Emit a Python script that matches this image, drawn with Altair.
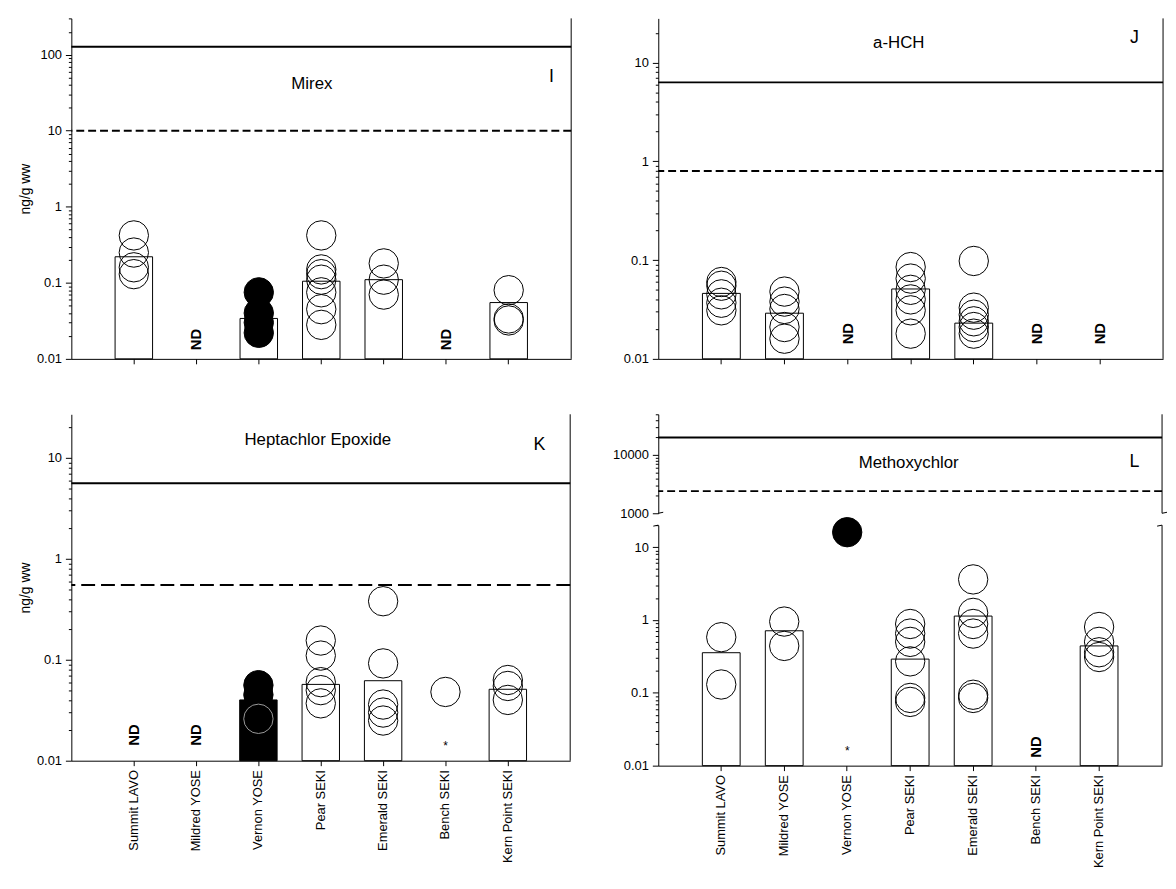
import math
import altair as alt
import pandas as pd

FONT = "Liberation Sans"
SITES = ["Summit LAVO", "Mildred YOSE", "Vernon YOSE", "Pear SEKI",
         "Emerald SEKI", "Bench SEKI", "Kern Point SEKI"]
Y_TITLE = "ng/g ww"
ND_LEVEL = 0.018

# ---------------- I : Mirex ----------------
I_NAME, I_LETTER = "Mirex", "I"
I_Y_DOMAIN = [0.01, 300]
I_LIMITS = [127, 10]
I_BAR_SITES = ["Summit LAVO", "Vernon YOSE", "Pear SEKI", "Emerald SEKI", "Kern Point SEKI"]
I_BAR_VALUES = [0.22, 0.034, 0.105, 0.11, 0.055]
I_BAR_KIND = ["open", "open", "open", "open", "open"]
I_PT_SITES = ["Summit LAVO", "Summit LAVO", "Summit LAVO", "Summit LAVO",
              "Vernon YOSE", "Vernon YOSE", "Vernon YOSE", "Vernon YOSE",
              "Pear SEKI", "Pear SEKI", "Pear SEKI", "Pear SEKI", "Pear SEKI", "Pear SEKI", "Pear SEKI",
              "Emerald SEKI", "Emerald SEKI", "Emerald SEKI",
              "Kern Point SEKI", "Kern Point SEKI", "Kern Point SEKI"]
I_PT_VALUES = [0.42, 0.25, 0.16, 0.13,
               0.075, 0.04, 0.03, 0.022,
               0.42, 0.15, 0.13, 0.11, 0.075, 0.045, 0.028,
               0.18, 0.11, 0.07,
               0.08, 0.034, 0.032]
I_PT_KIND = ["open"] * 4 + ["filled"] * 4 + ["open"] * 13
I_ND_SITES = ["Mildred YOSE", "Bench SEKI"]

# ---------------- J : a-HCH ----------------
J_NAME, J_LETTER = "a-HCH", "J"
J_Y_DOMAIN = [0.01, 28]
J_LIMITS = [6.3, 0.8]
J_BAR_SITES = ["Summit LAVO", "Mildred YOSE", "Pear SEKI", "Emerald SEKI"]
J_BAR_VALUES = [0.046, 0.029, 0.051, 0.023]
J_BAR_KIND = ["open", "open", "open", "open"]
J_PT_SITES = ["Summit LAVO"] * 5 + ["Mildred YOSE"] * 5 + ["Pear SEKI"] * 6 + ["Emerald SEKI"] * 6
J_PT_VALUES = [0.06, 0.055, 0.045, 0.037, 0.031,
               0.048, 0.038, 0.032, 0.021, 0.016,
               0.085, 0.065, 0.05, 0.04, 0.031, 0.018,
               0.098, 0.033, 0.028, 0.024, 0.021, 0.018]
J_PT_KIND = ["open"] * 22
J_ND_SITES = ["Vernon YOSE", "Bench SEKI", "Kern Point SEKI"]

# ---------------- K : Heptachlor Epoxide ----------------
K_NAME, K_LETTER = "Heptachlor Epoxide", "K"
K_Y_DOMAIN = [0.01, 27]
K_LIMITS = [5.6, 0.55]
K_BAR_SITES = ["Vernon YOSE", "Pear SEKI", "Emerald SEKI", "Kern Point SEKI"]
K_BAR_VALUES = [0.04, 0.057, 0.062, 0.051]
K_BAR_KIND = ["filled", "open", "open", "open"]
K_PT_SITES = ["Vernon YOSE"] * 3 + ["Pear SEKI"] * 5 + ["Emerald SEKI"] * 5 + ["Bench SEKI"] + ["Kern Point SEKI"] * 3
K_PT_VALUES = [0.056, 0.045, 0.026,
               0.155, 0.11, 0.06, 0.05, 0.037,
               0.38, 0.092, 0.036, 0.03, 0.025,
               0.048,
               0.063, 0.055, 0.04]
K_PT_KIND = ["filled", "filled", "open on fill"] + ["open"] * 14
K_ND_SITES = ["Summit LAVO", "Mildred YOSE"]
K_STAR_SITES = ["Bench SEKI"]
K_STAR_VALUES = [0.014]

# ---------------- L : Methoxychlor (broken axis) ----------------
L_NAME, L_LETTER = "Methoxychlor", "L"
L_Y_DOMAIN_TOP = [1000, 50000]
L_Y_DOMAIN = [0.01, 20]
L_LIMITS = [20000, 2400]
L_BAR_SITES = ["Summit LAVO", "Mildred YOSE", "Pear SEKI", "Emerald SEKI", "Kern Point SEKI"]
L_BAR_VALUES = [0.355, 0.71, 0.29, 1.13, 0.44]
L_BAR_KIND = ["open"] * 5
L_PT_SITES = ["Summit LAVO"] * 2 + ["Mildred YOSE"] * 2 + ["Vernon YOSE"] + ["Pear SEKI"] * 6 + ["Emerald SEKI"] * 6 + ["Kern Point SEKI"] * 4
L_PT_VALUES = [0.58, 0.13,
               0.95, 0.44,
               16,
               0.88, 0.65, 0.5, 0.27, 0.085, 0.075,
               3.6, 1.25, 0.88, 0.65, 0.094, 0.085,
               0.8, 0.5, 0.36, 0.31]
L_PT_KIND = ["open"] * 4 + ["filled"] + ["open"] * 16
L_ND_SITES = ["Bench SEKI"]
L_STAR_SITES = ["Vernon YOSE"]
L_STAR_VALUES = [0.016]

KIND_DOMAIN = ["open", "filled", "open on fill"]
FILL_SCALE = alt.Scale(domain=KIND_DOMAIN, range=["transparent", "black", "transparent"])
STROKE_SCALE = alt.Scale(domain=KIND_DOMAIN, range=["black", "black", "#9a9a9a"])
DECADE = "abs(log(datum.value)/LN10 - round(log(datum.value)/LN10)) < 0.001"


def log_ticks(lo, hi):
    vals = []
    e = math.floor(math.log10(lo))
    while 10 ** e <= hi * 1.0001:
        for m in range(1, 10):
            v = float(f"{m * 10 ** e:.10g}")
            if lo * 0.9999 <= v <= hi * 1.0001:
                vals.append(v)
        e += 1
    return vals


def y_axis(domain, title):
    return alt.Axis(values=log_ticks(*domain),
                    labelExpr=f"({DECADE}) ? format(datum.value, '~g') : ''",
                    labelFontSize={"condition": {"test": DECADE, "value": 13}, "value": 0},
                    tickSize={"condition": {"test": DECADE, "value": 6}, "value": 3},
                    labelOverlap=False, labelFlush=False, grid=False,
                    labelPadding=4, titlePadding=4, title=title)


def y_scale(domain):
    return alt.Scale(type="log", domain=domain, nice=False)


def x_enc(labels):
    if labels:
        ax = alt.Axis(labelAngle=270, tickSize=5, labelPadding=4, title=None, grid=False)
    else:
        ax = alt.Axis(labels=False, tickSize=5, title=None, grid=False)
    return alt.X("site:N", sort=SITES,
                 scale=alt.Scale(domain=SITES, paddingInner=0.4, paddingOuter=0.7),
                 axis=ax)


def one_row(**kw):
    return pd.DataFrame({k: [v] for k, v in kw.items()})


def decor_layers(name, letter, limits, dash, domain, yax, title_xy, letter_xy):
    ys = alt.Y("v:Q", scale=y_scale(domain), axis=yax)
    solid = alt.Chart(one_row(v=limits[0])).mark_rule(color="black", strokeWidth=2).encode(y=ys)
    dashed = alt.Chart(one_row(v=limits[1])).mark_rule(color="black", strokeWidth=2,
                                                      strokeDash=dash).encode(y=ys)
    title = alt.Chart(one_row(t=name)).mark_text(font=FONT, fontSize=17, color="black").encode(
        text="t:N", x=alt.value(title_xy[0]), y=alt.value(title_xy[1]))
    let = alt.Chart(one_row(t=letter)).mark_text(font=FONT, fontSize=18, color="black").encode(
        text="t:N", x=alt.value(letter_xy[0]), y=alt.value(letter_xy[1]))
    return [solid, dashed, title, let]


def border(w, h):
    return alt.Chart(one_row(b=0)).mark_rule(color="black", strokeWidth=1).encode(
        x=alt.value(w), y=alt.value(0), y2=alt.value(h))


def break_mark(x0, x1, y0, y1):
    return alt.Chart(one_row(b=0)).mark_rule(color="black", strokeWidth=1).encode(
        x=alt.value(x0), x2=alt.value(x1), y=alt.value(y0), y2=alt.value(y1))


def data_layers(bar_sites, bar_vals, bar_kind, pt_sites, pt_vals, pt_kind, nd_sites,
                domain, yax, labels, star_sites=None, star_vals=None):
    ys = lambda f: alt.Y(f, scale=y_scale(domain), axis=yax)
    layers = []
    bars = pd.DataFrame({"site": bar_sites, "value": bar_vals, "kind": bar_kind})
    layers.append(alt.Chart(bars).mark_bar(strokeWidth=1).encode(
        x=x_enc(labels), y=ys("value:Q"), y2=alt.datum(domain[0]),
        fill=alt.Fill("kind:N", scale=FILL_SCALE, legend=None),
        stroke=alt.Stroke("kind:N", scale=STROKE_SCALE, legend=None)))
    pts = pd.DataFrame({"site": pt_sites, "value": pt_vals, "kind": pt_kind})
    layers.append(alt.Chart(pts).mark_point(shape="circle", size=880, strokeWidth=1,
                                            filled=True, opacity=1).encode(
        x=x_enc(labels), y=ys("value:Q"),
        fill=alt.Fill("kind:N", scale=FILL_SCALE, legend=None),
        stroke=alt.Stroke("kind:N", scale=STROKE_SCALE, legend=None)))
    nd = pd.DataFrame({"site": nd_sites, "value": [ND_LEVEL] * len(nd_sites), "t": ["ND"] * len(nd_sites)})
    layers.append(alt.Chart(nd).mark_text(angle=270, font=FONT, fontSize=15, fontWeight="bold",
                                          color="black").encode(
        x=x_enc(labels), y=ys("value:Q"), text="t:N"))
    if star_sites:
        st = pd.DataFrame({"site": star_sites, "value": star_vals, "t": ["*"] * len(star_sites)})
        layers.append(alt.Chart(st).mark_text(font=FONT, fontSize=12, color="black").encode(
            x=x_enc(labels), y=ys("value:Q"), text="t:N"))
    return layers


# ---- panel I
IW, IH = 505, 344
i_ax = y_axis(I_Y_DOMAIN, Y_TITLE)
panel_i = alt.layer(
    *data_layers(I_BAR_SITES, I_BAR_VALUES, I_BAR_KIND, I_PT_SITES, I_PT_VALUES, I_PT_KIND,
                 I_ND_SITES, I_Y_DOMAIN, i_ax, False),
    *decor_layers(I_NAME, I_LETTER, I_LIMITS, [8, 4], I_Y_DOMAIN, i_ax, (243, 66), (485, 59)),
    border(IW, IH)).properties(width=IW, height=IH)

# ---- panel J
JW, JH = 510, 344
j_ax = y_axis(J_Y_DOMAIN, None)
panel_j = alt.layer(
    *data_layers(J_BAR_SITES, J_BAR_VALUES, J_BAR_KIND, J_PT_SITES, J_PT_VALUES, J_PT_KIND,
                 J_ND_SITES, J_Y_DOMAIN, j_ax, False),
    *decor_layers(J_NAME, J_LETTER, J_LIMITS, [8, 4], J_Y_DOMAIN, j_ax, (243, 25), (481, 20)),
    border(JW, JH)).properties(width=JW, height=JH)

# ---- panel K
KW, KH = 504, 350
k_ax = y_axis(K_Y_DOMAIN, Y_TITLE)
panel_k = alt.layer(
    *data_layers(K_BAR_SITES, K_BAR_VALUES, K_BAR_KIND, K_PT_SITES, K_PT_VALUES, K_PT_KIND,
                 K_ND_SITES, K_Y_DOMAIN, k_ax, True, K_STAR_SITES, K_STAR_VALUES),
    *decor_layers(K_NAME, K_LETTER, K_LIMITS, [14, 6], K_Y_DOMAIN, k_ax, (249, 26), (473, 31)),
    border(KW, KH)).properties(width=KW, height=KH)

# ---- panel L (two parts, broken axis)
LW, LH_TOP, LH = 509, 100, 243
lt_ax = y_axis(L_Y_DOMAIN_TOP, None)
panel_l_top = alt.layer(
    *decor_layers(L_NAME, L_LETTER, L_LIMITS, [8, 4], L_Y_DOMAIN_TOP, lt_ax, (253, 49), (481, 48)),
    border(LW, LH_TOP),
    break_mark(0, 5, LH_TOP, LH_TOP - 1),
    break_mark(LW, LW + 5, LH_TOP, LH_TOP - 1)).properties(width=LW, height=LH_TOP)
lb_ax = y_axis(L_Y_DOMAIN, None)
panel_l_bottom = alt.layer(
    *data_layers(L_BAR_SITES, L_BAR_VALUES, L_BAR_KIND, L_PT_SITES, L_PT_VALUES, L_PT_KIND,
                 L_ND_SITES, L_Y_DOMAIN, lb_ax, True, L_STAR_SITES, L_STAR_VALUES),
    border(LW, LH),
    break_mark(-5, 0, 1, 0),
    break_mark(LW - 5, LW, 1, 0)).properties(width=LW, height=LH)
panel_l = alt.vconcat(panel_l_top, panel_l_bottom, spacing=12, bounds="flush")

top = alt.hconcat(panel_i, panel_j, spacing=51)
bottom = alt.hconcat(panel_k, panel_l, spacing=41)

chart = alt.vconcat(top, bottom, spacing=48).properties(
    padding={"left": 10, "top": 5, "right": 0, "bottom": 5}
).configure_view(strokeWidth=0).configure_axis(
    domainColor="black", tickColor="black", labelColor="black", titleColor="black",
    labelFont=FONT, titleFont=FONT, labelFontSize=13, titleFontSize=14,
    titleFontWeight="normal", domainWidth=1, tickWidth=1
)

chart.save("out.html", embed_options={"renderer": "svg", "actions": False})
